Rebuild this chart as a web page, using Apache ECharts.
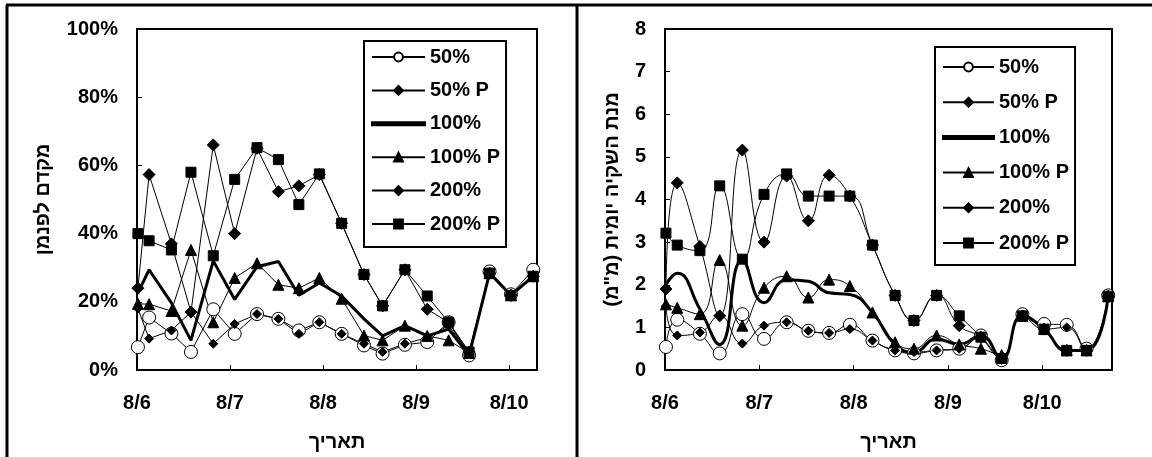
<!DOCTYPE html>
<html>
<head>
<meta charset="utf-8">
<script src="https://cdn.jsdelivr.net/npm/echarts@6/dist/echarts.min.js"></script>
<style>
  html, body { margin: 0; padding: 0; background: #fff; }
  #chart { width: 1152px; height: 457px; }
</style>
</head>
<body>
<div id="chart"></div>
<script>
// x positions of measurements, in days after 8/6
var days = [0.01, 0.13, 0.37, 0.58, 0.82, 1.05, 1.29, 1.52, 1.74, 1.96, 2.2, 2.44, 2.64, 2.88, 3.12, 3.35, 3.57, 3.79, 4.02, 4.26, 4.47, 4.70];
var seriesNames = ['50%', '50% P', '100%', '100% P', '200%', '200% P'];

// left panel: coefficient relative to Penman (%)
var kc50   = [6.7, 15.4, 10.7, 5.3, 17.8, 10.6, 16.4, 15, 11.6, 14, 10.6, 7.2, 4.8, 7.4, 8.2, 14, 4.3, 28.9, 22.2, 29.4];
var kc50P  = [18, 9.2, 11.6, 17, 7.7, 13.5, 16.4, 15, 10.6, 14, 10.6, 7.7, 5.3, 7.7, 9.5, 13, 5, 28.4, 21.9, 27.5];
var kc100  = [22.6, 29.4, 19.7, 8.7, 32, 20.7, 30.3, 31.8, 21.9, 25.5, 21.7, 15, 10, 13, 10, 12, 4.3, 28.4, 21.9, 27.5];
var kc100P = [19.4, 19.3, 17.3, 35.2, 14, 27, 31.3, 25, 24, 27, 20.9, 10.1, 8.7, 13, 10, 8.7, 5, 28.4, 21.9, 27.5];
var kc200  = [24, 57.3, 37, 17, 66, 40, 65, 52.3, 54, 57.3, 43, 28, 18.8, 29.4, 17.8, 14, 5.3, 28.4, 21.9, 27.5];
var kc200P = [40, 37.9, 35.2, 58, 33.5, 55.9, 65.2, 61.7, 48.5, 57.5, 43, 28, 18.8, 29.4, 21.7, 14, 5.3, 28.4, 21.9, 27.5];

// right panel: daily irrigation dose (mm)
var mm50   = [0.54, 1.18, 0.85, 0.39, 1.31, 0.73, 1.12, 0.92, 0.87, 1.06, 0.69, 0.46, 0.39, 0.46, 0.5, 0.81, 0.23, 1.31, 1.08, 1.06, 0.5, 1.75];
var mm50P  = [1.5, 0.81, 0.88, 1.27, 0.62, 1.04, 1.12, 0.92, 0.87, 0.96, 0.69, 0.46, 0.42, 0.46, 0.5, 0.77, 0.27, 1.27, 0.96, 1.0, 0.46, 1.73];
var mm100  = [2.0, 2.27, 1.43, 0.6, 2.58, 1.58, 2.12, 2.08, 1.81, 1.77, 1.35, 0.6, 0.42, 0.73, 0.6, 0.81, 0.27, 1.27, 0.96, 0.46, 0.46, 1.73];
var mm100P = [1.54, 1.46, 1.31, 2.58, 1.04, 1.93, 2.2, 1.7, 2.12, 1.97, 1.35, 0.65, 0.5, 0.81, 0.6, 0.5, 0.35, 1.27, 0.96, 0.46, 0.46, 1.73];
var mm200  = [1.9, 4.39, 2.9, 1.27, 5.16, 3.0, 4.55, 3.5, 4.57, 4.08, 2.93, 1.75, 1.16, 1.75, 1.04, 0.77, 0.27, 1.27, 0.96, 0.46, 0.46, 1.73];
var mm200P = [3.21, 2.93, 2.80, 4.32, 2.60, 4.12, 4.60, 4.08, 4.08, 4.08, 2.93, 1.75, 1.16, 1.75, 1.27, 0.77, 0.27, 1.27, 0.96, 0.46, 0.46, 1.73];

var FONT = '"Liberation Sans", Arial, "DejaVu Sans", sans-serif';
var RLM = '\u200F';

function pairs(vals) {
    return vals.map(function(v, i) { return [days[i], v]; });
}

// marker look for each of the six series
var looks = [
    { symbol: 'circle',   size: 13, fill: '#fff', width: 1 },
    { symbol: 'diamond',  size: 9,  fill: '#000', width: 1 },
    { symbol: 'none',     size: 0,  fill: '#000', width: 3 },
    { symbol: 'triangle', size: 11, fill: '#000', width: 1 },
    { symbol: 'diamond',  size: 12, fill: '#000', width: 1 },
    { symbol: 'rect',     size: 10, fill: '#000', width: 1 }
];

function makeSeries(list, gridIdx, smooth) {
    return list.map(function(vals, k) {
        var lk = looks[k];
        return {
            name: seriesNames[k],
            type: 'line',
            xAxisIndex: gridIdx,
            yAxisIndex: gridIdx,
            smooth: smooth,
            symbol: lk.symbol,
            symbolSize: lk.size,
            showSymbol: lk.symbol !== 'none',
            lineStyle: { color: '#000', width: lk.width },
            itemStyle: { color: lk.fill, borderColor: '#000', borderWidth: 1 },
            emphasis: { disabled: true },
            data: pairs(vals)
        };
    });
}

function legendData(w) {
    return seriesNames.map(function(n) {
        if (n === '100%') return { name: n, icon: 'path://M0,0h' + w + 'v3h-' + w + 'z' };
        return { name: n };
    });
}

var labelStyle = { color: '#000', fontSize: 20, fontWeight: 'bold', fontFamily: FONT };

function xAxis(gridIdx, max) {
    return {
        type: 'value', gridIndex: gridIdx, min: 0, max: max, interval: 1,
        name: 'תאריך', nameLocation: 'middle', nameGap: 62,
        nameTextStyle: labelStyle,
        axisLine: { lineStyle: { color: '#000', width: 2 } },
        axisTick: { inside: true, length: 5, lineStyle: { color: '#000', width: 1 } },
        axisLabel: Object.assign({ margin: 23, showMaxLabel: false,
            formatter: function(v) { return Math.abs(v - Math.round(v)) < 1e-6 ? '8/' + (6 + Math.round(v)) : ''; } }, labelStyle),
        splitLine: { show: false }
    };
}

function yAxis(gridIdx, max, interval, name, gap, fmt) {
    return {
        type: 'value', gridIndex: gridIdx, min: 0, max: max, interval: interval,
        name: name, nameLocation: 'middle', nameRotate: 90, nameGap: gap,
        nameTextStyle: labelStyle,
        axisLine: { show: true, lineStyle: { color: '#000', width: 2 } },
        axisTick: { show: true, inside: true, length: 5, lineStyle: { color: '#000', width: 1 } },
        axisLabel: Object.assign({ margin: 19, formatter: fmt }, labelStyle),
        splitLine: { show: false }
    };
}

function legend(left, top, iw, gap, padding) {
    return {
        left: left, top: top, orient: 'vertical', itemWidth: iw, itemHeight: 11,
        itemGap: gap, padding: padding,
        borderColor: '#000', borderWidth: 2,
        textStyle: labelStyle,
        selectedMode: false,
        data: legendData(iw)
    };
}

var myChart = echarts.init(document.getElementById('chart'));
myChart.setOption({
    backgroundColor: '#fff',
    animation: false,
    grid: [
        { left: 137, top: 29, width: 400, height: 346, show: true, borderColor: '#000', borderWidth: 2 },
        { left: 665, top: 29, width: 447, height: 346, show: true, borderColor: '#000', borderWidth: 2 }
    ],
    xAxis: [xAxis(0, 4.3), xAxis(1, 4.74)],
    yAxis: [
        yAxis(0, 100, 20, 'מקדם לפנמן' + RLM, 84, '{value}%'),
        yAxis(1, 8, 1, 'מנת השקיה יומית (מ"מ)' + RLM, 43, '{value}')
    ],
    legend: [
        legend(364, 41, 53, 13.4, [6, 6, 13, 7]),
        legend(935, 47, 51, 15.2, [10, 6, 12, 7])
    ],
    graphic: [
        { type: 'line', shape: { x1: 6, y1: 5, x2: 1152, y2: 5 }, style: { stroke: '#000', lineWidth: 3 } },
        { type: 'line', shape: { x1: 7, y1: 5, x2: 7, y2: 457 }, style: { stroke: '#000', lineWidth: 3 } },
        { type: 'line', shape: { x1: 577, y1: 5, x2: 577, y2: 457 }, style: { stroke: '#000', lineWidth: 3 } }
    ],
    series: makeSeries([kc50, kc50P, kc100, kc100P, kc200, kc200P], 0, false)
        .concat(makeSeries([mm50, mm50P, mm100, mm100P, mm200, mm200P], 1, true))
});
</script>
</body>
</html>
